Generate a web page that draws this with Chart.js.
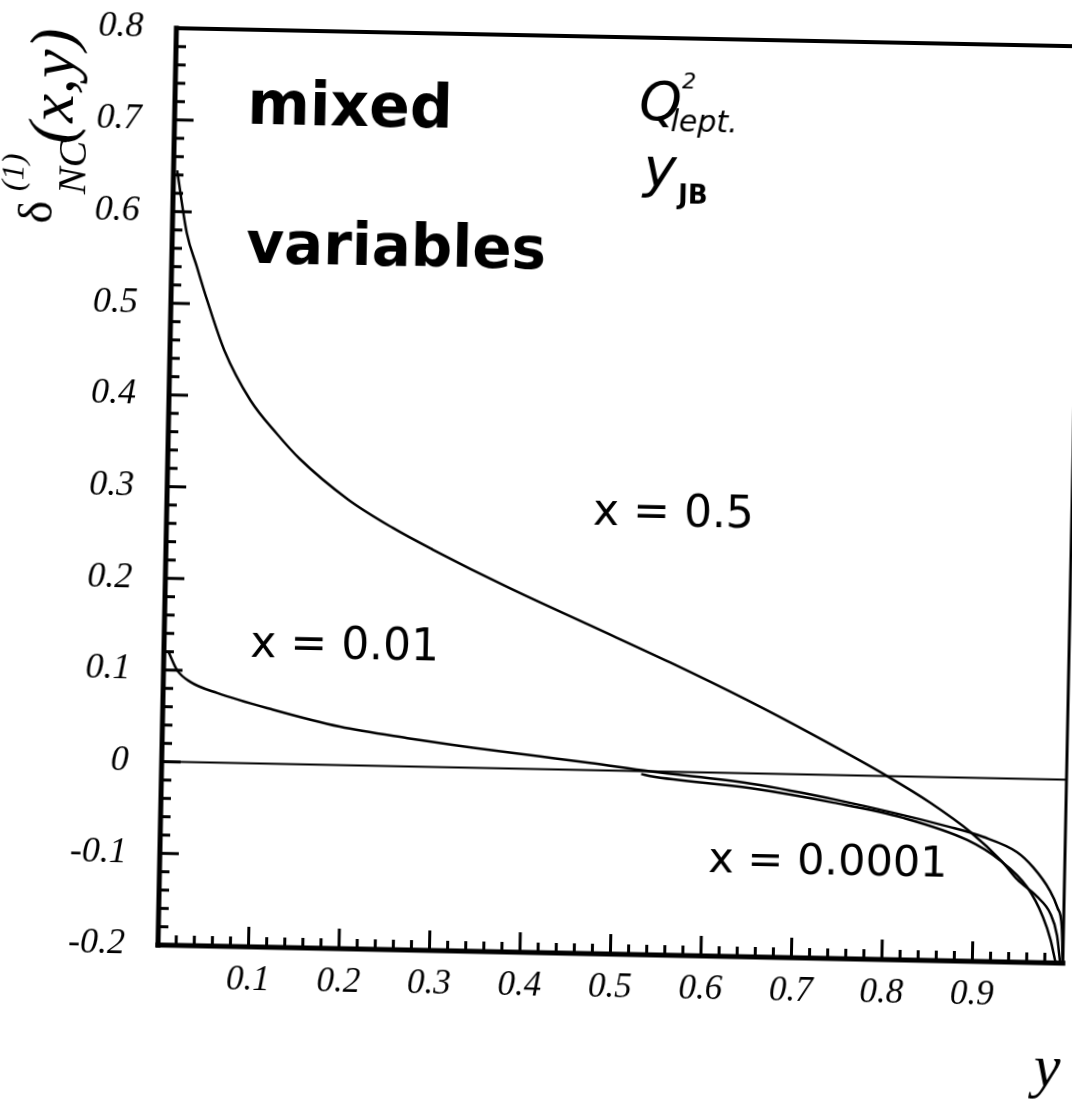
<!DOCTYPE html>
<html>
<head>
<meta charset="utf-8">
<script src="https://cdn.jsdelivr.net/npm/chart.js@4.4.1/dist/chart.umd.min.js"></script>
<style>
  html, body { margin: 0; padding: 0; background: #fff; overflow: hidden; }
  #wrap {
    position: absolute; left: -20px; top: -20px; width: 1112px; height: 1142px;
    transform: rotate(1.15deg); transform-origin: 178px 965px;
  }
</style>
</head>
<body>
<div id="wrap"><canvas id="chart" width="1112" height="1142"></canvas></div>
<script>
// delta^(1)_NC(x,y) against y, mixed variables (Q2 from the lepton, y from Jacquet-Blondel)
const yX05 = [0.004, 0.016, 0.028, 0.040, 0.060, 0.090, 0.120, 0.146, 0.200, 0.250, 0.295, 0.380, 0.470, 0.560, 0.645, 0.720, 0.802, 0.850, 0.895, 0.930, 0.948, 0.970, 0.985, 0.993, 0.997];
const dX05 = [0.645, 0.577, 0.540, 0.504, 0.450, 0.396, 0.360, 0.333, 0.290, 0.260, 0.237, 0.197, 0.158, 0.119, 0.080, 0.043, 0.000, -0.028, -0.059, -0.090, -0.110, -0.128, -0.146, -0.170, -0.200];

const yX001 = [0.005, 0.015, 0.030, 0.060, 0.122, 0.196, 0.271, 0.344, 0.418, 0.473, 0.540, 0.651, 0.747, 0.872, 0.909, 0.947, 0.965, 0.984, 0.993, 0.998, 1.000];
const dX001 = [0.120, 0.100, 0.0875, 0.076, 0.059, 0.042, 0.031, 0.022, 0.014, 0.008, 0.000, -0.011, -0.027, -0.054, -0.064, -0.080, -0.096, -0.121, -0.140, -0.160, -0.200];

const yX00001 = [0.530, 0.540, 0.651, 0.743, 0.820, 0.892, 0.928, 0.959, 0.977, 0.986, 0.992];
const dX00001 = [-0.003, -0.005, -0.016, -0.030, -0.045, -0.068, -0.089, -0.118, -0.150, -0.175, -0.200];

const zeroY = [0, 1];
const zeroD = [0, 0];

const xTicks = [0.1, 0.2, 0.3, 0.4, 0.5, 0.6, 0.7, 0.8, 0.9];
const yTicks = [0.8, 0.7, 0.6, 0.5, 0.4, 0.3, 0.2, 0.1, 0, -0.1, -0.2];

const pts = (xs, ys) => xs.map((x, i) => ({ x, y: ys[i] }));

const curve = (data, w) => ({
  data,
  showLine: true,
  borderColor: '#000',
  borderWidth: w,
  pointRadius: 0,
  cubicInterpolationMode: 'monotone',
  fill: false
});

const serif = '"Liberation Serif", "Times New Roman", serif';
const sans = '"DejaVu Sans", sans-serif';

// frame, inward tick marks and all the text drawn on the plot
const decor = {
  id: 'decor',
  afterDraw(chart) {
    const ctx = chart.ctx;
    const { left, right, top, bottom } = chart.chartArea;
    const xs = chart.scales.x, ys = chart.scales.y;
    ctx.save();
    ctx.strokeStyle = '#000';
    ctx.fillStyle = '#000';
    ctx.lineCap = 'square';

    // frame
    const seg = (x1, y1, x2, y2, w) => {
      ctx.lineWidth = w;
      ctx.beginPath(); ctx.moveTo(x1, y1); ctx.lineTo(x2, y2); ctx.stroke();
    };
    seg(left, top, right + 30, top, 4);
    seg(right, top, right, bottom, 3);
    seg(left, top, left, bottom, 5);
    seg(left, bottom, right, bottom, 5);

    // ticks every 0.02, long ones every 0.1
    ctx.lineWidth = 3;
    ctx.lineCap = 'butt';
    for (let i = 0; i <= 50; i++) {
      const v = -0.2 + i * 0.02;
      const py = ys.getPixelForValue(v);
      const len = i % 5 === 0 ? 19 : 10;
      ctx.beginPath(); ctx.moveTo(left, py); ctx.lineTo(left + len, py); ctx.stroke();
    }
    for (let i = 1; i < 50; i++) {
      const px = xs.getPixelForValue(i * 0.02);
      const len = i % 5 === 0 ? 20 : 10;
      ctx.beginPath(); ctx.moveTo(px, bottom); ctx.lineTo(px, bottom - len); ctx.stroke();
    }

    // text in the plot
    const at = (txt, x, y, font) => {
      ctx.font = font;
      ctx.textAlign = 'left';
      ctx.textBaseline = 'alphabetic';
      ctx.fillText(txt, xs.getPixelForValue(x), ys.getPixelForValue(y));
    };
    at('mixed', 0.080, 0.697, 'bold 60px ' + sans);
    at('variables', 0.082, 0.546, 'bold 58px ' + sans);
    at('x = 0.5', 0.471, 0.2675, '44px ' + sans);
    at('x = 0.01', 0.0953, 0.116, '44px ' + sans);
    at('x = 0.0001', 0.606, -0.108, '43px ' + sans);

    // handwritten variable note
    at('Q', 0.513, 0.711, 'oblique 54px ' + sans);
    at('2', 0.560, 0.746, 'oblique 22px ' + sans);
    at('lept.', 0.548, 0.699, 'oblique 30px ' + sans);
    at('y', 0.519, 0.637, 'oblique 56px ' + sans);
    at('JB', 0.558, 0.620, 'bold 26px ' + sans);

    // y-axis title, written bottom to top
    const vtext = (txt, bx, by, font) => {
      ctx.save();
      ctx.translate(bx, by);
      ctx.rotate(-Math.PI / 2);
      ctx.font = font;
      ctx.textAlign = 'left';
      ctx.textBaseline = 'alphabetic';
      ctx.fillText(txt, 0, 0);
      ctx.restore();
    };
    vtext('\u03B4', left - 121, top + 198, '48px ' + serif);
    vtext('(1)', left - 150, top + 166, 'italic 32px ' + serif);
    vtext('NC', left - 88, top + 168, 'italic 40px ' + serif);
    vtext('(x,y)', left - 102, top + 118, 'italic 64px ' + serif);

    // x-axis title
    ctx.font = 'italic 60px ' + serif;
    ctx.fillText('y', right - 27, bottom + 123);
    ctx.restore();
  }
};

new Chart(document.getElementById('chart'), {
  type: 'scatter',
  data: {
    datasets: [
      curve(pts(zeroY, zeroD), 2),
      curve(pts(yX05, dX05), 2.5),
      curve(pts(yX001, dX001), 2.5),
      curve(pts(yX00001, dX00001), 2.5)
    ]
  },
  options: {
    responsive: false,
    animation: false,
    devicePixelRatio: 1,
    layout: { padding: { top: 48, right: 29, left: 0, bottom: 0 } },
    plugins: { legend: { display: false }, tooltip: { enabled: false } },
    scales: {
      x: {
        type: 'linear',
        min: 0, max: 1,
        grid: { display: false },
        border: { display: false },
        afterBuildTicks: s => { s.ticks = xTicks.map(v => ({ value: v })); },
        afterFit: s => { s.height = 177; s.paddingLeft = 0; s.paddingRight = 0; },
        ticks: {
          padding: 5,
          color: '#000',
          font: { family: serif, style: 'italic', size: 35 },
          callback: v => v.toFixed(1)
        }
      },
      y: {
        type: 'linear',
        min: -0.2, max: 0.8,
        grid: { display: false },
        border: { display: false },
        afterBuildTicks: s => { s.ticks = yTicks.map(v => ({ value: v })); },
        afterFit: s => { s.width = 178; s.paddingTop = 0; s.paddingBottom = 0; },
        ticks: {
          padding: 25,
          color: '#000',
          font: { family: serif, style: 'italic', size: 36 },
          callback: v => (Math.abs(v) < 1e-9 ? '0' : v.toFixed(1))
        }
      }
    }
  },
  plugins: [decor]
});
</script>
</body>
</html>
